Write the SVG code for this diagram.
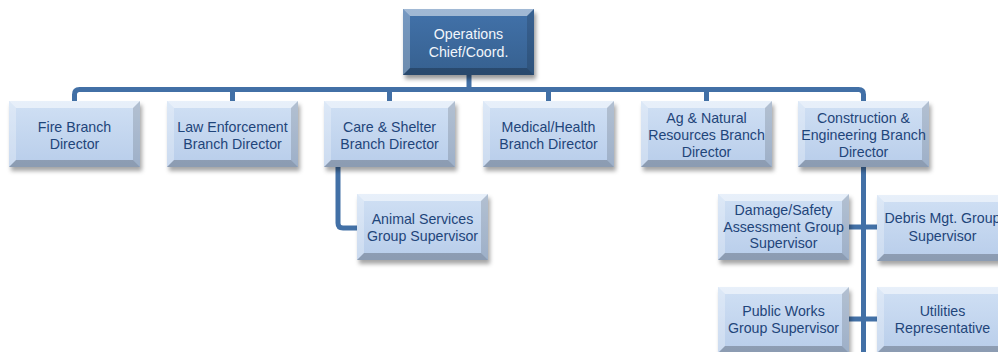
<svg xmlns="http://www.w3.org/2000/svg" xmlns:xlink="http://www.w3.org/1999/xlink" width="998" height="352" viewBox="0 0 998 352">
  <style>
    .conn { fill: none; stroke: #4270A6; stroke-width: 5; stroke-linejoin: round; }
    .t { font-family: "Liberation Sans", Arial, sans-serif; font-size: 14.2px; text-anchor: middle; fill: #1F457A; }
    .tw { fill: #F2F6FB; }
  </style>
  <defs>
    <linearGradient id="gLight" x1="0" y1="0" x2="0" y2="1">
      <stop offset="0" stop-color="#D0E0F4"/>
      <stop offset="1" stop-color="#B8CDEA"/>
    </linearGradient>
    <linearGradient id="gDark" x1="0" y1="0" x2="0" y2="1">
      <stop offset="0" stop-color="#4272AA"/>
      <stop offset="1" stop-color="#36608F"/>
    </linearGradient>
    <filter id="shadow" x="-10%" y="-20%" width="130%" height="150%">
      <feGaussianBlur stdDeviation="2"/>
    </filter>
    <g id="facets">
      <polygon points="0,0 131,0 124,7 7,7" fill="#FFFFFF" fill-opacity="0.5"/>
      <polygon points="0,0 7,7 7,59 0,66" fill="#FFFFFF" fill-opacity="0.28"/>
      <polygon points="131,0 131,66 124,59 124,7" fill="#000000" fill-opacity="0.14"/>
      <polygon points="0,66 7,59 124,59 131,66" fill="#000000" fill-opacity="0.24"/>
    </g>
    <g id="boxLight">
      <rect x="2" y="4" width="131" height="66" fill="#000" fill-opacity="0.35" filter="url(#shadow)"/>
      <rect x="0" y="0" width="131" height="66" fill="url(#gLight)"/>
      <use xlink:href="#facets"/>
    </g>
    <g id="boxDark">
      <rect x="2" y="4" width="131" height="66" fill="#000" fill-opacity="0.4" filter="url(#shadow)"/>
      <rect x="0" y="0" width="131" height="66" fill="url(#gDark)"/>
      <use xlink:href="#facets"/>
    </g>
  </defs>

  <g id="connectors">
    <path class="conn" d="M469,75 V90"/>
    <path class="conn" d="M74.5,101 V94.5 Q74.5,89.5 79.5,89.5 H858.5 Q863.5,89.5 863.5,94.5 V101"/>
    <path class="conn" d="M232.5,89.5 V101"/>
    <path class="conn" d="M389.5,89.5 V101"/>
    <path class="conn" d="M548.5,89.5 V101"/>
    <path class="conn" d="M706.5,89.5 V101"/>
    <path class="conn" d="M338,167 V223 Q338,228 343,228 H357"/>
    <path class="conn" d="M863.5,167 V352"/>
    <path class="conn" d="M849,227 H877"/>
    <path class="conn" d="M849,319 H877"/>
  </g>

  <g id="ops" transform="translate(403,9)">
    <use xlink:href="#boxDark"/>
    <text class="t tw" x="65.5" y="30">Operations</text>
    <text class="t tw" x="65.5" y="48">Chief/Coord.</text>
  </g>

  <g id="fire" transform="translate(9,101)">
    <use xlink:href="#boxLight"/>
    <text class="t" x="65.5" y="30.5">Fire Branch</text>
    <text class="t" x="65.5" y="48">Director</text>
  </g>

  <g id="law" transform="translate(167,101)">
    <use xlink:href="#boxLight"/>
    <text class="t" x="65.5" y="30.5">Law Enforcement</text>
    <text class="t" x="65.5" y="48">Branch Director</text>
  </g>

  <g id="care" transform="translate(324,101)">
    <use xlink:href="#boxLight"/>
    <text class="t" x="65.5" y="30.5">Care &amp; Shelter</text>
    <text class="t" x="65.5" y="48">Branch Director</text>
  </g>

  <g id="medical" transform="translate(483,101)">
    <use xlink:href="#boxLight"/>
    <text class="t" x="65.5" y="30.5">Medical/Health</text>
    <text class="t" x="65.5" y="48">Branch Director</text>
  </g>

  <g id="ag" transform="translate(641,101)">
    <use xlink:href="#boxLight"/>
    <text class="t" x="65.5" y="21.7">Ag &amp; Natural</text>
    <text class="t" x="65.5" y="39">Resources Branch</text>
    <text class="t" x="65.5" y="56.3">Director</text>
  </g>

  <g id="construction" transform="translate(798,101)">
    <use xlink:href="#boxLight"/>
    <text class="t" x="65.5" y="21.7">Construction &amp;</text>
    <text class="t" x="65.5" y="39">Engineering Branch</text>
    <text class="t" x="65.5" y="56.3">Director</text>
  </g>

  <g id="animal" transform="translate(357,194)">
    <use xlink:href="#boxLight"/>
    <text class="t" x="65.5" y="30.3">Animal Services</text>
    <text class="t" x="65.5" y="47">Group Supervisor</text>
  </g>

  <g id="damage" transform="translate(718,194)">
    <use xlink:href="#boxLight"/>
    <text class="t" x="65.5" y="21">Damage/Safety</text>
    <text class="t" x="65.5" y="37.7">Assessment Group</text>
    <text class="t" x="65.5" y="54.3">Supervisor</text>
  </g>

  <g id="debris" transform="translate(877,195)">
    <use xlink:href="#boxLight"/>
    <text class="t" x="65.5" y="28.3">Debris Mgt. Group</text>
    <text class="t" x="65.5" y="45.7">Supervisor</text>
  </g>

  <g id="publicworks" transform="translate(718,287)">
    <use xlink:href="#boxLight"/>
    <text class="t" x="65.5" y="28.7">Public Works</text>
    <text class="t" x="65.5" y="46.3">Group Supervisor</text>
  </g>

  <g id="utilities" transform="translate(877,287)">
    <use xlink:href="#boxLight"/>
    <text class="t" x="65.5" y="28.7">Utilities</text>
    <text class="t" x="65.5" y="46.3">Representative</text>
  </g>
</svg>
